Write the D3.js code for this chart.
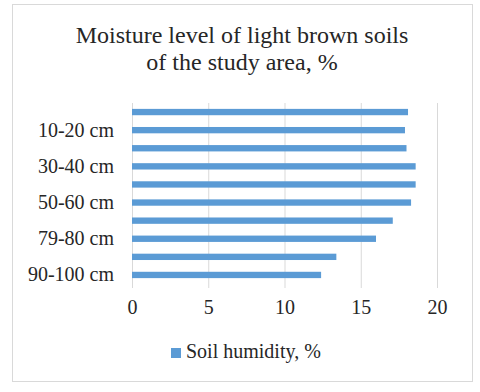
<!DOCTYPE html>
<html>
<head>
<meta charset="utf-8">
<script src="https://cdn.jsdelivr.net/npm/d3@7"></script>
<style>
  body { margin: 0; background: #fff; }
  text { font-family: "Liberation Serif", "Times New Roman", serif; fill: #262626; }
</style>
</head>
<body>
<div id="chart"></div>
<script>
// data
const depths = ["0-10 cm", "10-20 cm", "20-30 cm", "30-40 cm", "40-50 cm",
                "50-60 cm", "60-70 cm", "79-80 cm", "80-90 cm", "90-100 cm"];
const humidity = [18.1, 17.9, 18.0, 18.6, 18.6, 18.3, 17.1, 16.0, 13.4, 12.4];
const xTicks = [0, 5, 10, 15, 20];
const titleLines = ["Moisture level of light brown soils", "of the study area, %"];
const seriesName = "Soil humidity, %";

const W = 480, H = 392;
const plot = {left: 132, right: 437, top: 103, bottom: 284};

let svg = d3.select("#chart")
    .append("svg")
    .attr("width", W)
    .attr("height", H);

// chart border
svg.append("rect")
    .attr("x", 12.5).attr("y", 4.5)
    .attr("width", 460).attr("height", 377)
    .style("fill", "#fff")
    .style("stroke", "#d9d9d9");

// title
svg.append("g")
    .selectAll("text")
    .data(titleLines)
    .enter()
    .append("text")
    .attr("x", 242)
    .attr("y", (d, i) => 43 + i * 27)
    .attr("text-anchor", "middle")
    .style("font-size", "24px")
    .text((d) => d);

var x = d3.scaleLinear()
    .domain([0, 20])
    .range([plot.left, plot.right]);

var y = d3.scaleBand()
    .domain(depths)
    .range([plot.top, plot.bottom])
    .paddingInner(0.65)
    .paddingOuter(0.325);

// gridlines
svg.append("g")
    .attr("transform", "translate(0," + plot.bottom + ")")
    .call(d3.axisBottom(x).tickValues(xTicks).tickSize(-(plot.bottom - plot.top)).tickFormat(""))
    .call((g) => g.select(".domain").remove())
    .call((g) => g.selectAll("line").style("stroke", "#d9d9d9"));

// small tick marks + labels below
svg.append("g")
    .attr("transform", "translate(0," + plot.bottom + ")")
    .call(d3.axisBottom(x).tickValues(xTicks).tickSize(4).tickPadding(12))
    .call((g) => g.select(".domain").remove())
    .call((g) => g.selectAll("line").style("stroke", "#d9d9d9"))
    .call((g) => g.selectAll("text").style("font-size", "20px").style("fill", "#262626")
        .style("font-family", "'Liberation Serif', serif"));

// y labels, every other category
svg.append("g")
    .attr("transform", "translate(" + plot.left + ",0)")
    .call(d3.axisLeft(y).tickSize(0).tickPadding(18)
        .tickFormat((d, i) => i % 2 == 1 ? d : ""))
    .call((g) => g.select(".domain").remove())
    .call((g) => g.selectAll("text").style("font-size", "20px").style("fill", "#262626")
        .style("font-family", "'Liberation Serif', serif"));

// bars
svg.append("g")
    .selectAll("rect")
    .data(depths)
    .enter()
    .append("rect")
    .attr("x", x(0))
    .attr("y", (d) => y(d))
    .attr("width", (d, i) => x(humidity[i]) - x(0))
    .attr("height", y.bandwidth())
    .style("fill", "#5b9bd5");

// legend
let legend = svg.append("g").attr("transform", "translate(171,348)");
legend.append("rect")
    .attr("width", 10).attr("height", 10)
    .style("fill", "#5b9bd5");
legend.append("text")
    .attr("x", 15)
    .attr("y", 10)
    .style("font-size", "20px")
    .text(seriesName);
</script>
</body>
</html>
